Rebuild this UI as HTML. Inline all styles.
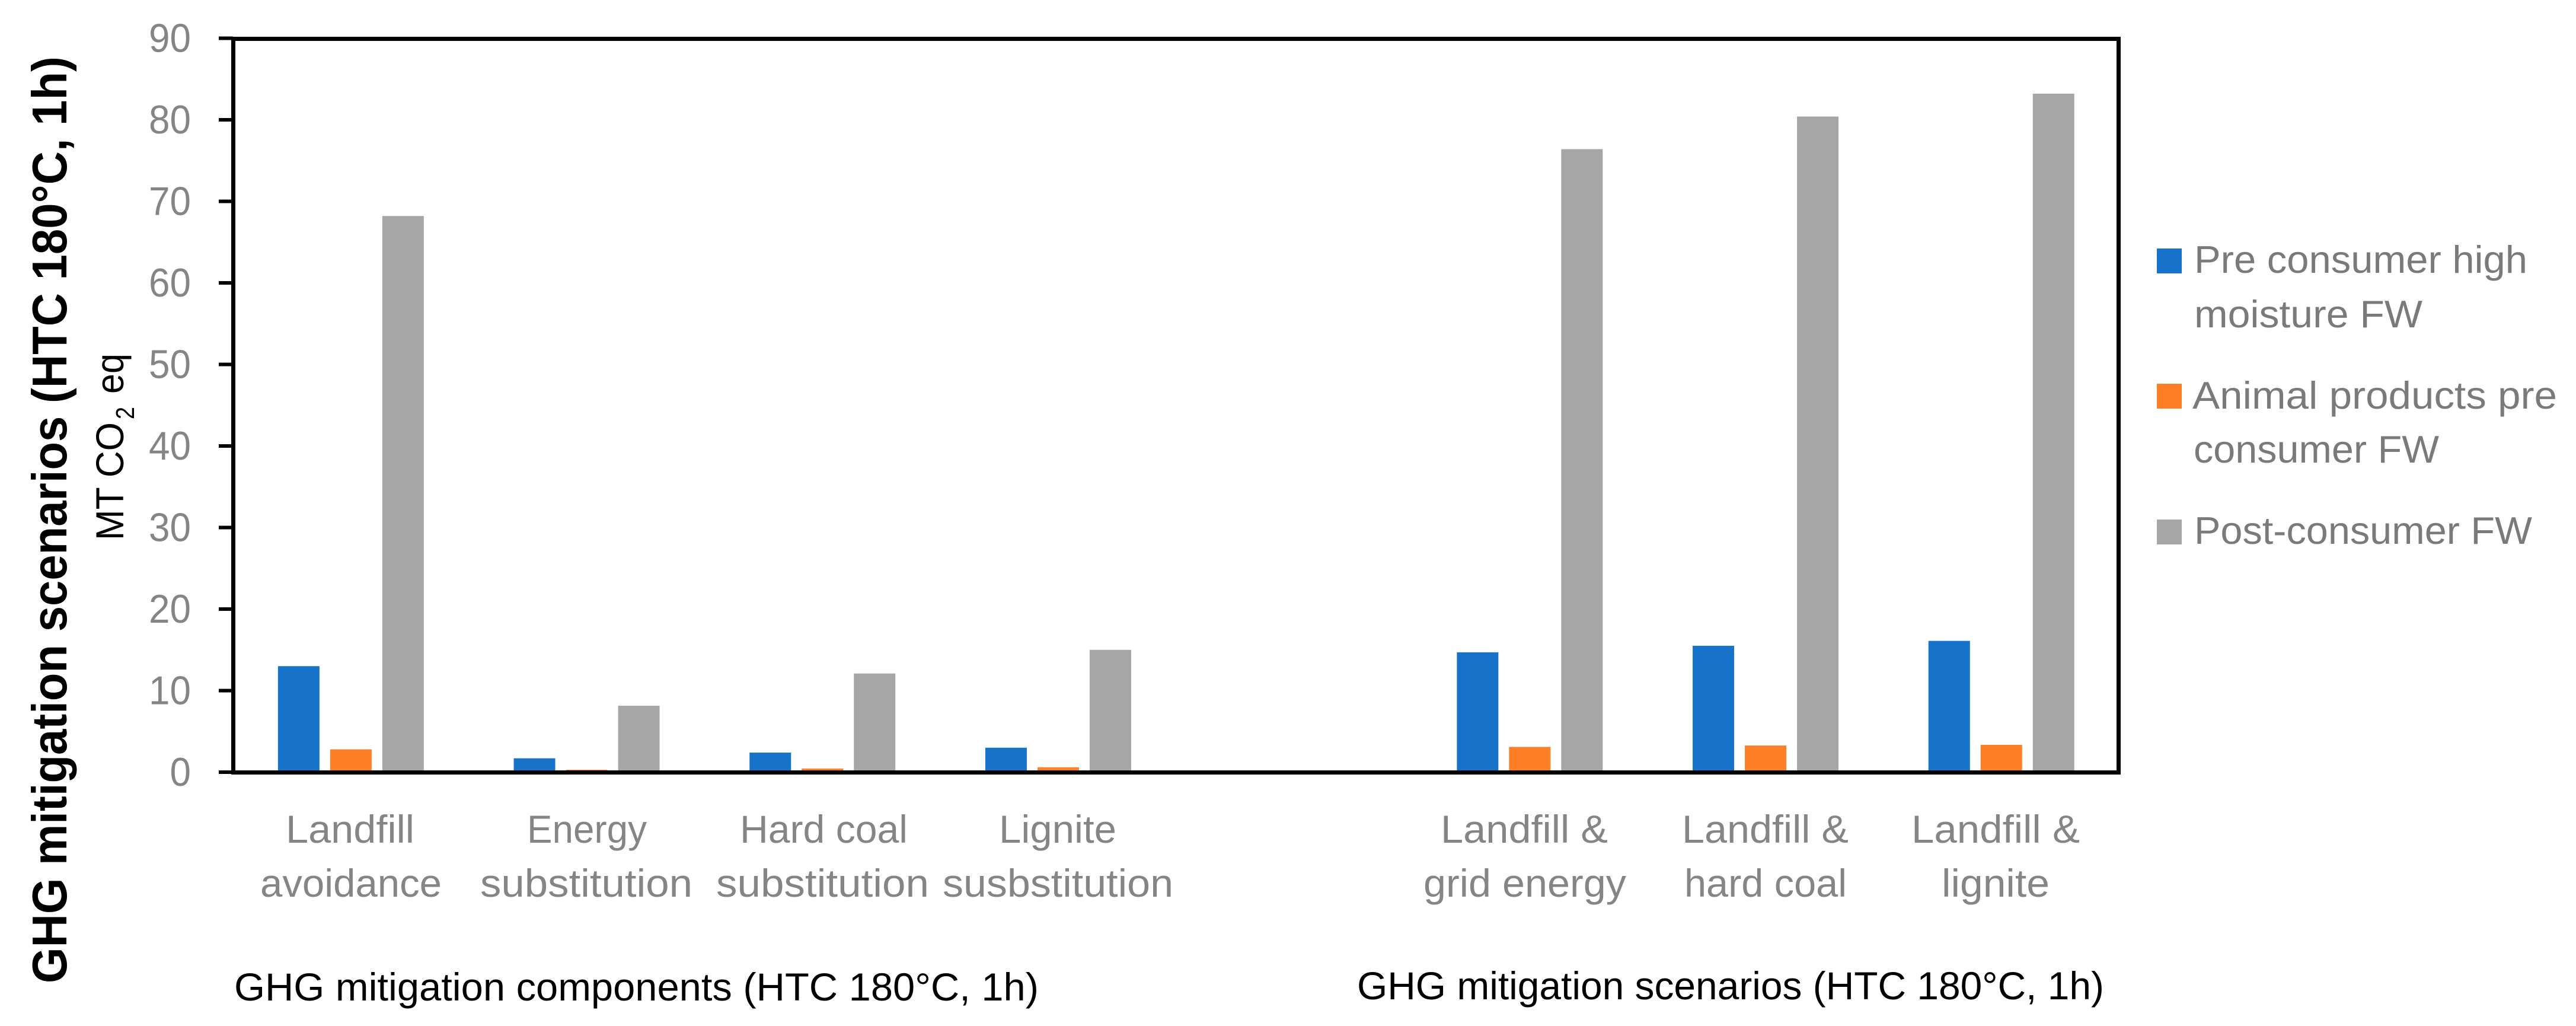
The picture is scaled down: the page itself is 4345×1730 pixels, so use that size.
<!DOCTYPE html>
<html lang="en">
<head>
<meta charset="utf-8">
<title>GHG mitigation scenarios chart</title>
<style>
  html, body { margin: 0; padding: 0; background: #ffffff; }
  svg { display: block; }
  text { font-family: "Liberation Sans", sans-serif; }
  .tick-label { font-size: 68px; fill: #858585; text-anchor: end; }
  .cat { font-size: 66px; fill: #858585; }
  .leg { font-size: 65px; fill: #7a7a7a; }
  .sub { font-size: 66px; fill: #000000; }
</style>
</head>
<body>
<svg id="chart" xmlns="http://www.w3.org/2000/svg" width="4345" height="1730" viewBox="0 0 4345 1730">
  <rect x="0" y="0" width="4345" height="1730" fill="#ffffff"/>

  <g id="bars"></g>
  <g id="yticks"></g>

  <rect x="390" y="62" width="3187" height="7" fill="#000"/>
  <rect x="390" y="62" width="7" height="1244" fill="#000"/>
  <rect x="3570" y="62" width="7" height="1244" fill="#000"/>
  <rect x="390" y="1299" width="3187" height="7" fill="#000"/>

  <text transform="translate(112,1658) rotate(-90)" font-size="83" font-weight="700" fill="#000" textLength="1563" lengthAdjust="spacingAndGlyphs">GHG mitigation scenarios (HTC 180°C, 1h)</text>

  <g>
    <text transform="translate(208,911) rotate(-90)" font-size="66" fill="#000" textLength="199" lengthAdjust="spacingAndGlyphs">MT CO</text>
    <text transform="translate(226,707) rotate(-90)" font-size="44" fill="#000" textLength="21" lengthAdjust="spacingAndGlyphs">2</text>
    <text transform="translate(208,664) rotate(-90)" font-size="66" fill="#000" textLength="68" lengthAdjust="spacingAndGlyphs">eq</text>
  </g>

  <g>
    <text class="cat" x="482" y="1421" textLength="217" lengthAdjust="spacingAndGlyphs">Landfill</text>
    <text class="cat" x="439" y="1512" textLength="306" lengthAdjust="spacingAndGlyphs">avoidance</text>
    <text class="cat" x="889" y="1421" textLength="202" lengthAdjust="spacingAndGlyphs">Energy</text>
    <text class="cat" x="810" y="1512" textLength="358" lengthAdjust="spacingAndGlyphs">substitution</text>
    <text class="cat" x="1248" y="1421" textLength="283" lengthAdjust="spacingAndGlyphs">Hard coal</text>
    <text class="cat" x="1208" y="1512" textLength="359" lengthAdjust="spacingAndGlyphs">substitution</text>
    <text class="cat" x="1685" y="1421" textLength="198" lengthAdjust="spacingAndGlyphs">Lignite</text>
    <text class="cat" x="1590" y="1512" textLength="389" lengthAdjust="spacingAndGlyphs">susbstitution</text>
    <text class="cat" x="2430" y="1421" textLength="282" lengthAdjust="spacingAndGlyphs">Landfill &amp;</text>
    <text class="cat" x="2401" y="1512" textLength="342" lengthAdjust="spacingAndGlyphs">grid energy</text>
    <text class="cat" x="2837" y="1421" textLength="281" lengthAdjust="spacingAndGlyphs">Landfill &amp;</text>
    <text class="cat" x="2841" y="1512" textLength="274" lengthAdjust="spacingAndGlyphs">hard coal</text>
    <text class="cat" x="3224" y="1421" textLength="284" lengthAdjust="spacingAndGlyphs">Landfill &amp;</text>
    <text class="cat" x="3275" y="1512" textLength="182" lengthAdjust="spacingAndGlyphs">lignite</text>
  </g>

  <text class="sub" x="395" y="1687" textLength="1357" lengthAdjust="spacingAndGlyphs">GHG mitigation components (HTC 180°C, 1h)</text>
  <text class="sub" x="2289" y="1685" textLength="1260" lengthAdjust="spacingAndGlyphs">GHG mitigation scenarios (HTC 180°C, 1h)</text>

  <g>
    <g>
      <rect x="3638" y="419" width="42" height="42" fill="#1772C9"/>
      <text class="leg" x="3701" y="460" textLength="562" lengthAdjust="spacingAndGlyphs">Pre consumer high</text>
      <text class="leg" x="3701" y="552" textLength="385" lengthAdjust="spacingAndGlyphs">moisture FW</text>
    </g>
    <g>
      <rect x="3638" y="647" width="42" height="42" fill="#FF7F27"/>
      <text class="leg" x="3698" y="689" textLength="615" lengthAdjust="spacingAndGlyphs">Animal products pre</text>
      <text class="leg" x="3700" y="780" textLength="414" lengthAdjust="spacingAndGlyphs">consumer FW</text>
    </g>
    <g>
      <rect x="3638" y="876" width="42" height="42" fill="#A6A6A6"/>
      <text class="leg" x="3701" y="917" textLength="570" lengthAdjust="spacingAndGlyphs">Post-consumer FW</text>
    </g>
  </g>
</svg>

<script>
const categories = ["Landfill avoidance", "Energy substitution", "Hard coal substitution", "Lignite susbstitution", "", "Landfill & grid energy", "Landfill & hard coal", "Landfill & lignite"];
const preConsumerHighMoisture = [13.0, 1.7, 2.4, 3.0, null, 14.7, 15.5, 16.1];
const animalProductsPreConsumer = [2.8, 0.3, 0.45, 0.6, null, 3.1, 3.27, 3.35];
const postConsumer = [68.2, 8.15, 12.1, 15.0, null, 76.4, 80.4, 83.2];
const yTickValues = [0, 10, 20, 30, 40, 50, 60, 70, 80, 90];

const SVG_NS = "http://www.w3.org/2000/svg";
const plotLeft = 396;
const bandWidth = 397.7;
const barWidth = 70;
const barPitch = 88;
const yZero = 1302;
const unitsToPixels = 13.75;
const axisTop = 1299;
const digitAdvance = 35.5;

function yScale(v) { return yZero - v * unitsToPixels; }
function xBand(i) { return plotLeft + bandWidth * (i + 0.5) - 3; }

const seriesList = [
  { key: "pre-consumer-high-moisture", values: preConsumerHighMoisture, color: "#1772C9", offset: -1 },
  { key: "animal-products-pre-consumer", values: animalProductsPreConsumer, color: "#FF7F27", offset: 0 },
  { key: "post-consumer", values: postConsumer, color: "#A6A6A6", offset: 1 }
];

const barsGroup = document.getElementById("bars");
seriesList.forEach(function (series) {
  series.values.forEach(function (value, i) {
    if (value === null) { return; }
    const top = yScale(value);
    const bar = document.createElementNS(SVG_NS, "rect");
    bar.setAttribute("x", xBand(i) + series.offset * barPitch - barWidth / 2);
    bar.setAttribute("y", top);
    bar.setAttribute("width", barWidth);
    bar.setAttribute("height", Math.max(0, axisTop - top));
    bar.setAttribute("fill", series.color);
    
    
    barsGroup.appendChild(bar);
  });
});

const ticksGroup = document.getElementById("yticks");
yTickValues.forEach(function (value) {
  const y = yScale(value);
  const mark = document.createElementNS(SVG_NS, "rect");
  mark.setAttribute("x", 369);
  mark.setAttribute("y", y - 3);
  mark.setAttribute("width", 24);
  mark.setAttribute("height", 6);
  mark.setAttribute("fill", "#000");
  
  
  ticksGroup.appendChild(mark);

  const text = String(value);
  const label = document.createElementNS(SVG_NS, "text");
  label.setAttribute("class", "tick-label");
  label.setAttribute("x", 322);
  label.setAttribute("y", y + 23);
  label.setAttribute("textLength", text.length * digitAdvance);
  label.setAttribute("lengthAdjust", "spacingAndGlyphs");
  label.textContent = text;
  
  
  ticksGroup.appendChild(label);
});
</script>
</body>
</html>
